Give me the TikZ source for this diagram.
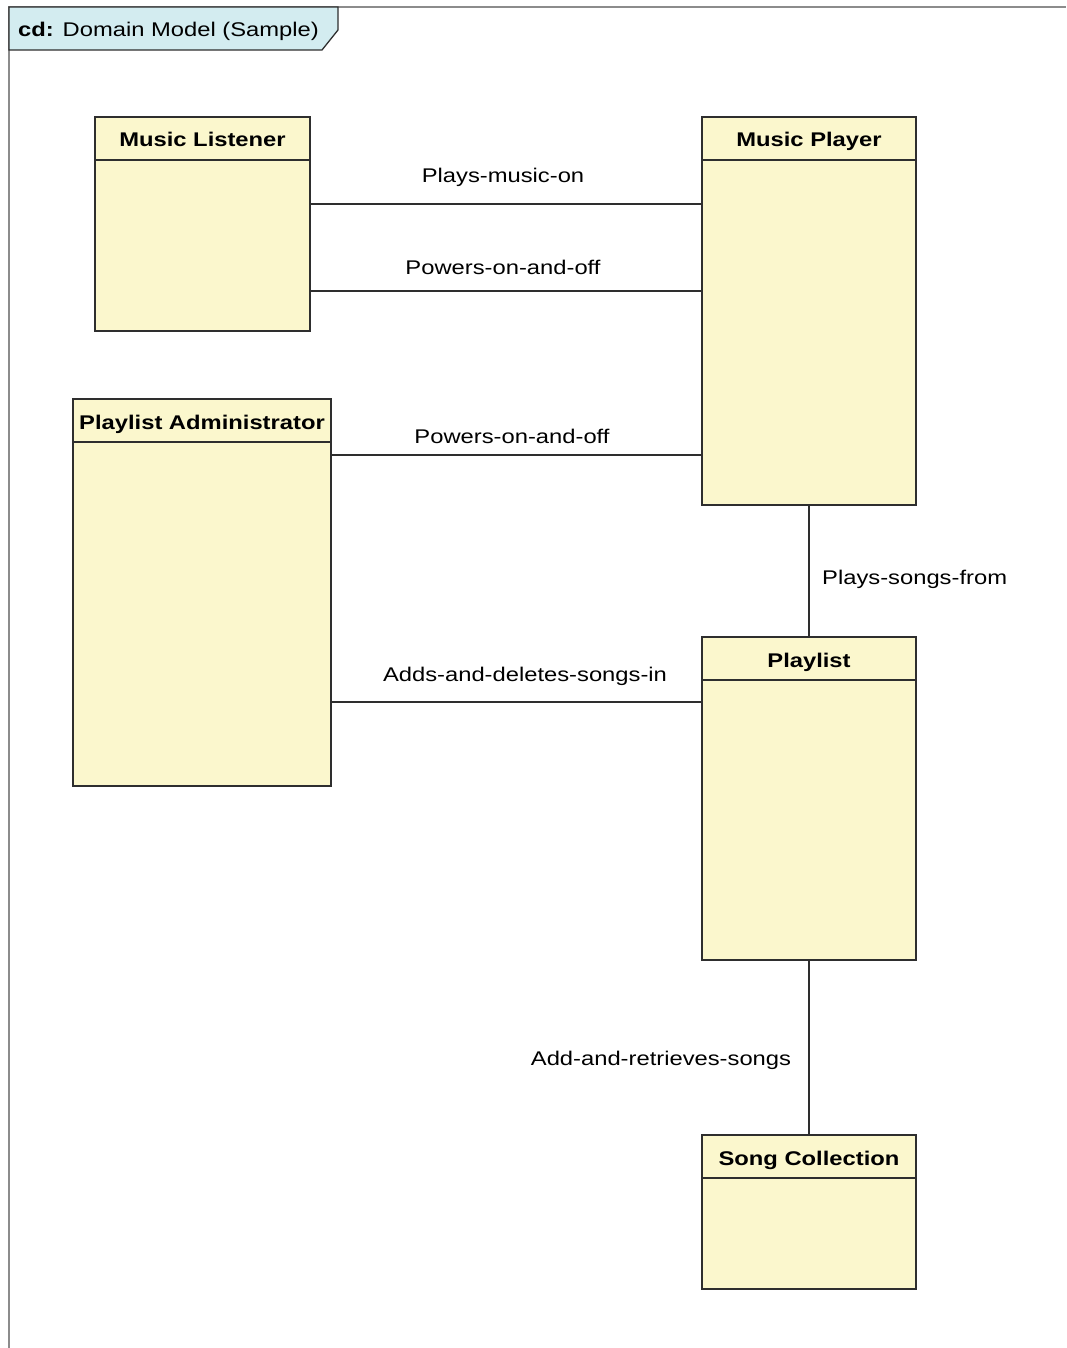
\documentclass[tikz,border=0pt]{standalone}
\usepackage{fontspec}
\setmainfont{Liberation Sans}[FakeStretch=1.2]
\usetikzlibrary{calc}
\definecolor{clsfill}{HTML}{FBF7CD}
\definecolor{tagfill}{HTML}{D3ECF0}
\definecolor{edgecol}{HTML}{2E2E2E}
\definecolor{framecol}{HTML}{8C8C8C}
\tikzset{
  cls/.style={draw=edgecol, line width=1.8pt, fill=clsfill, anchor=north west, inner sep=0pt, outer sep=0pt},
  divider/.style={draw=edgecol, line width=1.5pt},
  title/.style={anchor=base, inner sep=0pt, font=\fontsize{19.8}{23}\selectfont\bfseries},
  assoc/.style={draw=edgecol, line width=1.5pt},
  lbl/.style={anchor=base, inner sep=0pt, font=\fontsize{19.8}{23}\selectfont},
  frameline/.style={draw=framecol, line width=1.5pt},
}
\begin{document}
\begin{tikzpicture}[x=1pt, y=-1pt]
\useasboundingbox (0,0) rectangle (1066,1348);
\fill[white] (0,0) rectangle (1066,1348);
% frame
\draw[frameline] (9,1348) -- (9,7) -- (1066,7);
\draw[draw=edgecol, line width=1.3pt, fill=tagfill] (9,7) -- (338,7) -- (338,30) -- (322,50) -- (9,50) -- cycle;
\node[lbl, anchor=base west] (tag) at (18,37) {\textbf{cd:} Domain Model (Sample)};
% classes
\node[cls, minimum width=215pt, minimum height=214pt] (ml) at (95,117) {};
\node[cls, minimum width=214pt, minimum height=388pt] (mp) at (702,117) {};
\node[cls, minimum width=258pt, minimum height=387pt] (pa) at (73,399) {};
\node[cls, minimum width=214pt, minimum height=323pt] (pl) at (702,637) {};
\node[cls, minimum width=214pt, minimum height=154pt] (sc) at (702,1135) {};
\foreach \b in {ml,mp,pa,pl,sc}{
  \draw[divider] ($(\b.north west)+(0,43)$) -- ($(\b.north east)+(0,43)$);
}
\node[title] (mlt) at ($(ml.north)+(0,30)$) {Music Listener};
\node[title] (mpt) at ($(mp.north)+(0,30)$) {Music Player};
\node[title] (pat) at ($(pa.north)+(0,30)$) {Playlist Administrator};
\node[title] (plt) at ($(pl.north)+(0,30)$) {Playlist};
\node[title] (sct) at ($(sc.north)+(0,30)$) {Song Collection};
% associations
\coordinate (c1) at ($(ml.north east)+(0,87)$);
\coordinate (c2) at ($(ml.north east)+(0,174)$);
\coordinate (c3) at ($(pa.north east)+(0,56)$);
\coordinate (c4) at ($(pa.north east)+(0,303)$);
\draw[assoc] (c1) -- (c1 -| mp.west);
\draw[assoc] (c2) -- (c2 -| mp.west);
\draw[assoc] (c3) -- (c3 -| mp.west);
\draw[assoc] (c4) -- (c4 -| pl.west);
\draw[assoc] (mp.south) -- (pl.north);
\draw[assoc] (pl.south) -- (sc.north);
% labels
\node[lbl] (l1) at (503,183) {Plays-music-on};
\node[lbl] (l2) at (503,274) {Powers-on-and-off};
\node[lbl] (l3) at (512,443) {Powers-on-and-off};
\node[lbl] (l4) at (525,681) {Adds-and-deletes-songs-in};
\node[lbl, anchor=base west] (l5) at (822,584) {Plays-songs-from};
\node[lbl] (l6) at (661,1065) {Add-and-retrieves-songs};
\end{tikzpicture}
\end{document}
